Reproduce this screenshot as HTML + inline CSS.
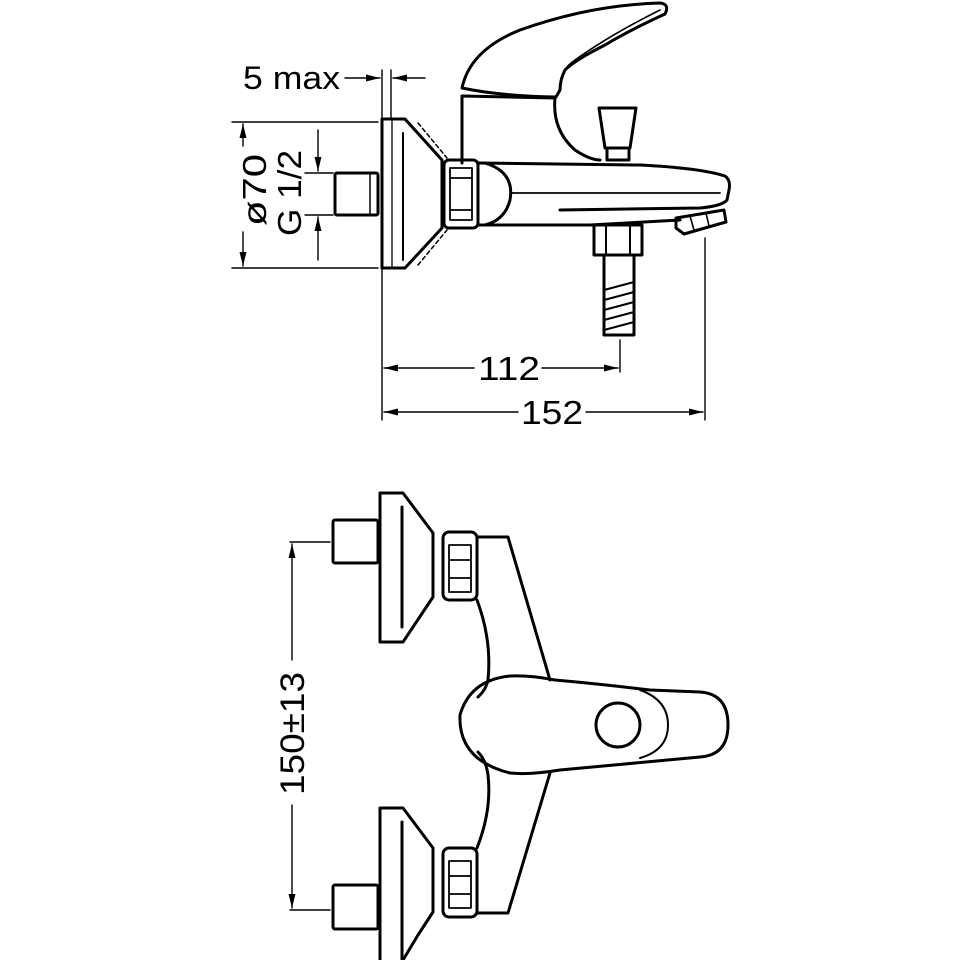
<!DOCTYPE html>
<html><head><meta charset="utf-8"><style>
html,body{margin:0;padding:0;background:#fff}
svg{display:block}
text{font-family:"Liberation Sans",sans-serif;fill:#000}
</style></head><body>
<svg width="960" height="960" viewBox="0 0 960 960" xmlns="http://www.w3.org/2000/svg">
<defs>
<marker id="a" viewBox="0 0 14 10" refX="14" refY="5" markerWidth="14" markerHeight="10" markerUnits="userSpaceOnUse" orient="auto"><path d="M0,1.5 L14,5 L0,8.5 Z" fill="#000"/></marker>
</defs>
<g fill="none" stroke="#000" stroke-width="3" stroke-linejoin="round" stroke-linecap="round">
<rect x="335" y="173" width="43" height="42" rx="2"/>
<line x1="370" y1="173" x2="370" y2="215" stroke-width="1.5"/>
<path d="M382,119 L405,119 L442,160 L442,228 L405,268 L382,268 Z"/>
<line x1="392" y1="119" x2="392" y2="268" stroke-width="1.3"/>
<line x1="403" y1="133" x2="403" y2="260" stroke-width="2"/>
<path d="M418,123 L447,158 M418,265 L447,230" stroke-width="1.5" stroke-dasharray="4,3"/>
<rect x="444" y="160" width="34" height="68" rx="5"/>
<path d="M450,168 L472,168 M450,178 L472,178 M450,210 L472,210 M450,220 L472,220 M450,168 L450,220 M472,168 L472,220" stroke-width="1.8"/>
<path d="M478,163 L640,165 Q700,168 725,176 Q731,180 729,190 L727,200 Q722,206 700,208 L560,210"/>
<path d="M478,225 L590,225 L680,220"/>
<path d="M485,163 Q515,172 510,200 Q505,220 485,225"/>
<line x1="512" y1="193" x2="720" y2="193" stroke-width="1.8"/>
<path d="M462,163 L462,96 L555,98 Q552,130 575,150 Q590,160 600,160"/>
<path d="M462,88 Q470,50 520,30 Q590,5 660,3 Q670,4 665,14 Q630,30 605,45 Q575,60 565,70 Q560,80 560,90 L556,97 Q500,96 462,88 Z"/>
<path d="M560,86 Q560,70 575,60 Q610,35 660,10" stroke-width="1.6"/>
<path d="M599,108 L636,108 L630,148 L605,148 Z"/>
<rect x="607" y="148" width="22" height="12"/>
<rect x="594" y="225" width="48" height="30"/>
<path d="M606,225 L606,255 M630,225 L630,255" stroke-width="2"/>
<rect x="604" y="255" width="30" height="80"/>
<path d="M604,290 L634,282 M604,300 L634,292 M604,310 L634,302 M604,320 L634,312 M604,330 L634,322" stroke-width="2"/>
<path d="M676,218 L724,210 L726,222 L684,234 L676,228 Z"/>
<path d="M690,216 L694,230 M706,213 L709,226" stroke-width="1.6"/>
<g stroke-width="1.4">
<line x1="382" y1="70" x2="382" y2="420"/>
<line x1="391" y1="70" x2="391" y2="119"/>
<line x1="705" y1="238" x2="705" y2="420"/>
<line x1="620" y1="340" x2="620" y2="372"/>
<line x1="345" y1="78" x2="380" y2="78" marker-end="url(#a)"/>
<line x1="425" y1="78" x2="393" y2="78" marker-end="url(#a)"/>
<line x1="474" y1="368" x2="384" y2="368" marker-end="url(#a)"/>
<line x1="542" y1="368" x2="618" y2="368" marker-end="url(#a)"/>
<line x1="518" y1="412" x2="384" y2="412" marker-end="url(#a)"/>
<line x1="586" y1="412" x2="703" y2="412" marker-end="url(#a)"/>
<line x1="232" y1="122" x2="378" y2="122"/>
<line x1="232" y1="268" x2="378" y2="268"/>
<line x1="243" y1="146" x2="243" y2="124" marker-end="url(#a)"/>
<line x1="243" y1="232" x2="243" y2="266" marker-end="url(#a)"/>
<line x1="305" y1="173" x2="333" y2="173"/>
<line x1="305" y1="215" x2="333" y2="215"/>
<line x1="318" y1="130" x2="318" y2="171" marker-end="url(#a)"/>
<line x1="318" y1="260" x2="318" y2="217" marker-end="url(#a)"/>
</g>
<rect x="333" y="520" width="45" height="43" rx="2"/>
<path d="M380,493 L403,493 L433,533 L433,597 L403,642 L380,642 Z"/>
<line x1="402" y1="507" x2="402" y2="627"/>
<rect x="443" y="532" width="34" height="68" rx="6"/>
<path d="M449,545 L471,545 M449,560 L471,560 M449,578 L471,578 M449,592 L471,592 M449,545 L449,592 M471,545 L471,592" stroke-width="1.8"/>
<rect x="333" y="885" width="45" height="44" rx="2"/>
<path d="M380,960 L380,808 L403,808 L433,848 L433,912 L418,935 M403,960 L418,935"/>
<line x1="402" y1="822" x2="402" y2="960"/>
<rect x="443" y="848" width="34" height="69" rx="6"/>
<path d="M449,861 L471,861 M449,876 L471,876 M449,894 L471,894 M449,908 L471,908 M449,861 L449,908 M471,861 L471,908" stroke-width="1.8"/>
<path d="M477,537 L508,537 L550,680"/>
<path d="M477,600 Q492,640 488,680 Q486,690 478,697"/>
<path d="M550,773 L508,913 L477,913"/>
<path d="M477,848 Q492,810 488,775 Q486,760 478,752"/>
<path d="M510,676 Q470,680 460,715 Q458,760 510,773 Q530,775 560,770 L700,757 Q728,755 728,725 Q728,694 700,692 L650,690 Q600,684 555,680 Q530,675 510,676 Z"/>
<path d="M640,690 Q668,700 668,725 Q668,750 640,758" stroke-width="2"/>
<circle cx="618" cy="725" r="22"/>
<g stroke-width="1.4">
<line x1="290" y1="542" x2="330" y2="542"/>
<line x1="290" y1="910" x2="330" y2="910"/>
<line x1="292" y1="660" x2="292" y2="544" marker-end="url(#a)"/>
<line x1="292" y1="805" x2="292" y2="908" marker-end="url(#a)"/>
</g>
</g>
<text x="243" y="89" font-size="32" textLength="97" lengthAdjust="spacingAndGlyphs">5 max</text>
<text x="478" y="380" font-size="33" textLength="62" lengthAdjust="spacingAndGlyphs">112</text>
<text x="521" y="424" font-size="33" textLength="62" lengthAdjust="spacingAndGlyphs">152</text>
<text transform="translate(266,226) rotate(-90)" font-size="33" textLength="72" lengthAdjust="spacingAndGlyphs">ø70</text>
<text transform="translate(301,236) rotate(-90)" font-size="33" textLength="86" lengthAdjust="spacingAndGlyphs">G 1/2</text>
<text transform="translate(304,795) rotate(-90)" font-size="34" textLength="123" lengthAdjust="spacingAndGlyphs">150±13</text>
</svg>
</body></html>
